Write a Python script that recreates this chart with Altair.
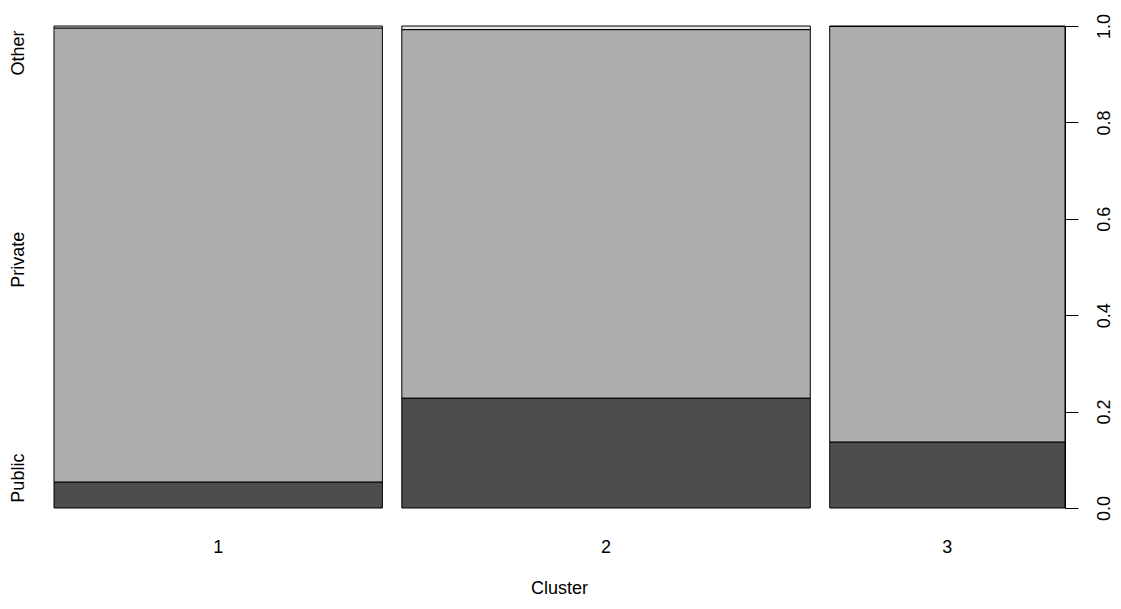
import altair as alt
import pandas as pd

clusters = ["1", "2", "3"]
cluster_sizes = [328, 408, 235]          # relative cluster sizes (bar widths)
public_share = [0.054, 0.228, 0.137]
other_share = [0.004, 0.0075, 0.001]
levels = ["Public", "Private", "Other"]
level_colors = ["#4D4D4D", "#AEAEAE", "#E6E6E6"]
y_ticks = [0.0, 0.2, 0.4, 0.6, 0.8, 1.0]
left_label_pos = [0.062, 0.515, 0.944]
gap = 0.02

# ---- build the spine table ----
total = sum(cluster_sizes)
rows = []
centers = []
cum = 0.0
for i, (c, n, pu, ot) in enumerate(zip(clusters, cluster_sizes, public_share, other_share)):
    w = n / total
    x0 = cum + i * gap
    x1 = x0 + w
    cum += w
    centers.append({"cluster": c, "xc": (x0 + x1) / 2})
    pr = 1 - pu - ot
    bounds = [0.0, pu, pu + pr, 1.0]
    for j, lev in enumerate(levels):
        rows.append({"cluster": c, "level": lev, "x0": x0, "x1": x1,
                     "y0": bounds[j], "y1": bounds[j + 1]})
df = pd.DataFrame(rows)
df_centers = pd.DataFrame(centers)
df_left = pd.DataFrame({"level": levels, "pos": left_label_pos})

W, H = 1011, 482
FONT = "Liberation Sans"

xscale = alt.Scale(domain=[0, 1 + 2 * gap], nice=False, zero=False)
yscale = alt.Scale(domain=[0, 1], nice=False, zero=False)

rects = alt.Chart(df).mark_rect(stroke="black", strokeWidth=1).encode(
    x=alt.X("x0:Q", scale=xscale, axis=None),
    x2="x1:Q",
    y=alt.Y("y0:Q", scale=yscale,
            axis=alt.Axis(orient="right", values=y_ticks, format=".1f",
                          labelAngle=270, labelAlign="center", labelBaseline="top",
                          labelPadding=17, tickSize=13, tickColor="black",
                          domain=True, domainColor="black", domainWidth=1,
                          tickWidth=1, labelFontSize=18, labelColor="black",
                          labelFont=FONT, grid=False, title=None)),
    y2="y1:Q",
    color=alt.Color("level:N", scale=alt.Scale(domain=levels, range=level_colors), legend=None),
)

xlabels = alt.Chart(df_centers).mark_text(
    fontSize=18, font=FONT, color="black", baseline="middle", align="center"
).encode(
    x=alt.X("xc:Q", scale=xscale, axis=None),
    y=alt.value(H + 40),
    text="cluster:N",
)

ylabels = alt.Chart(df_left).mark_text(
    fontSize=18, font=FONT, color="black", baseline="middle", align="center", angle=270
).encode(
    x=alt.value(-35),
    y=alt.Y("pos:Q", scale=yscale),
    text="level:N",
)

title = alt.Chart(pd.DataFrame({"t": ["Cluster"]})).mark_text(
    fontSize=18, font=FONT, color="black", baseline="middle", align="center"
).encode(
    x=alt.value(W / 2),
    y=alt.value(H + 81),
    text="t:N",
)

chart = alt.layer(rects, xlabels, ylabels, title).properties(
    width=W, height=H,
    autosize=alt.AutoSizeParams(type="none"),
    padding={"left": 46, "top": 18, "right": 48, "bottom": 93},
    background="white",
).configure_view(stroke=None)

chart.save("out.html", embed_options={"renderer": "svg", "actions": False})
